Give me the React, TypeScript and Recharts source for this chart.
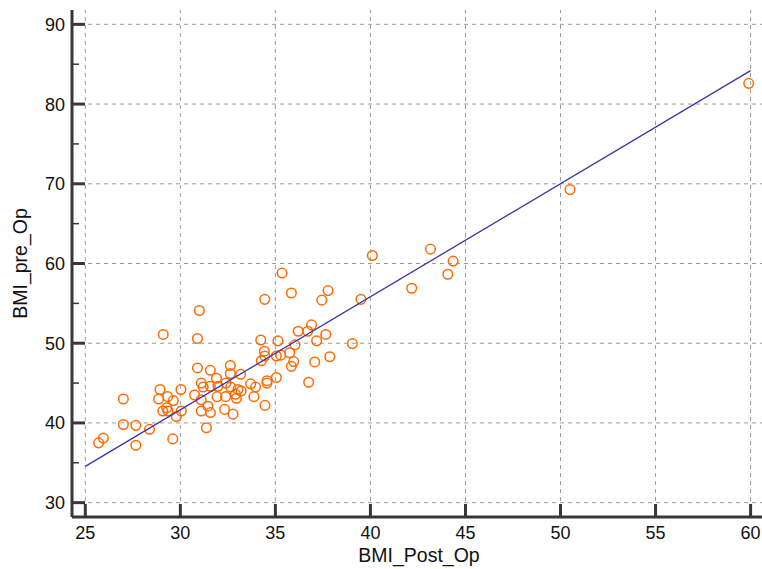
import { ScatterChart, Scatter, XAxis, YAxis, ReferenceLine, Label } from 'recharts';

// BMI after surgery (x) vs BMI before surgery (y)
const BMI_POST_OP = [
  25.7, 25.95, 27.0, 27.0, 27.66, 27.66, 28.38, 28.93, 28.86, 29.1,
  29.08, 29.28, 29.35, 29.33, 29.63, 29.6, 29.79, 30.03, 30.05, 30.9,
  30.9, 31.0, 30.75, 31.1, 31.2, 31.1, 31.45, 31.1, 31.58, 31.37,
  31.58, 31.58, 31.9, 31.98, 31.93, 32.33, 32.77, 32.4, 32.65, 32.38,
  32.63, 32.63, 32.9, 32.95, 33.17, 33.03, 33.2, 33.7, 33.96, 33.87,
  34.45, 34.56, 34.56, 35.05, 34.23, 34.26, 34.44, 34.42, 34.44, 35.05,
  35.28, 35.14, 35.35, 35.75, 35.84, 35.96, 35.84, 36.03, 36.2, 36.7,
  36.9, 36.75, 37.07, 37.17, 37.44, 37.65, 37.77, 37.86, 39.05, 39.5,
  40.1, 42.17, 43.16, 44.07, 44.35, 50.5, 59.9,
];
const BMI_PRE_OP = [
  37.5, 38.1, 43.0, 39.8, 39.7, 37.2, 39.2, 44.2, 43.0, 51.1,
  41.5, 41.9, 41.5, 43.3, 42.8, 38.0, 40.8, 44.2, 41.5, 50.6,
  46.9, 54.1, 43.5, 45.0, 44.5, 42.9, 42.1, 41.5, 41.3, 39.4,
  46.6, 44.6, 45.6, 44.6, 43.3, 41.7, 41.1, 45.0, 44.5, 43.3,
  47.2, 46.2, 43.6, 43.1, 46.1, 44.2, 44.0, 44.9, 44.5, 43.3,
  42.2, 45.3, 45.0, 45.7, 50.4, 47.8, 48.4, 49.0, 55.5, 48.4,
  48.5, 50.3, 58.8, 48.8, 47.1, 47.7, 56.3, 49.8, 51.5, 51.5,
  52.3, 45.1, 47.65, 50.3, 55.4, 51.1, 56.6, 48.3, 49.95, 55.5,
  61.0, 56.9, 61.8, 58.65, 60.3, 69.27, 82.6,
];

// regression line end points
const FIT_X = [25, 60];
const FIT_Y = [34.55, 84.2];

const X_TICKS = [25, 30, 35, 40, 45, 50, 55, 60];
const Y_TICKS = [30, 35, 40, 45, 50, 55, 60, 65, 70, 75, 80, 85, 90];
const Y_LABELS = [30, 40, 50, 60, 70, 80, 90];

const points = BMI_POST_OP.map((x, i) => ({ x, y: BMI_PRE_OP[i] }));
const fit = FIT_X.map((x, i) => ({ x, y: FIT_Y[i] }));

const W = 762;
const H = 569;
const TOP = 10;
const LEFT = 72;
const XAXIS_H = 52;
const BOTTOM = H - XAXIS_H;
const AXIS = '#383838';
const GRID = '#9a9a9a';
const FONT = '"Liberation Sans", Arial, Helvetica, sans-serif';

const YTick = (props: any) => {
  const { y, payload } = props;
  const v = payload.value;
  const major = Y_LABELS.includes(v);
  return (
    <g>
      <line x1={LEFT} x2={LEFT + (major ? 13 : 7)} y1={y} y2={y} stroke={AXIS} strokeWidth={major ? 3 : 1.5} />
      {major && (
        <text x={LEFT - 7} y={y + 6.5} textAnchor="end" fill="#111" fontSize={18} fontFamily={FONT}>
          {v}
        </text>
      )}
    </g>
  );
};

const XTick = (props: any) => {
  const { x, payload } = props;
  return (
    <g>
      <line x1={x} x2={x} y1={BOTTOM} y2={BOTTOM - 13} stroke={AXIS} strokeWidth={3} />
      <text x={x} y={BOTTOM + 21.5} textAnchor="middle" fill="#111" fontSize={18} fontFamily={FONT}>
        {payload.value}
      </text>
    </g>
  );
};

const Ring = (props: any) => (
  <circle cx={props.cx} cy={props.cy} r={4.8} fill="none" stroke="#ff6a00" strokeWidth={1.5} />
);

export default function App() {
  return (
    <div style={{ position: 'absolute', left: 0, top: 0, background: '#fff' }}>
      <ScatterChart width={W} height={H} margin={{ top: TOP, right: 0, bottom: 0, left: 0 }}>
        {Y_LABELS.map((v) => (
          <ReferenceLine key={`h${v}`} y={v} stroke={GRID} strokeDasharray="4 4" />
        ))}
        {X_TICKS.map((v) => (
          <ReferenceLine key={`v${v}`} x={v} stroke={GRID} strokeDasharray="4 4" />
        ))}
        <XAxis
          type="number"
          dataKey="x"
          domain={[24.3, 60.6]}
          ticks={X_TICKS}
          interval={0}
          allowDataOverflow
          height={XAXIS_H}
          axisLine={{ stroke: AXIS, strokeWidth: 3 }}
          tickLine={false}
          tick={(p: any) => <XTick {...p} />}
        >
          <Label
            content={() => (
              <text x={(LEFT + W) / 2 + 2} y={H - 7} textAnchor="middle" fill="#111" fontSize={19.5} fontFamily={FONT}>
                BMI_Post_Op
              </text>
            )}
          />
        </XAxis>
        <YAxis
          type="number"
          dataKey="y"
          domain={[28.2, 91.8]}
          ticks={Y_TICKS}
          interval={0}
          allowDataOverflow
          width={LEFT}
          axisLine={{ stroke: AXIS, strokeWidth: 3 }}
          tickLine={false}
          tick={(p: any) => <YTick {...p} />}
        >
          <Label
            content={() => (
              <text
                transform={`translate(27,${(TOP + BOTTOM) / 2}) rotate(-90)`}
                textAnchor="middle"
                fill="#111"
                fontSize={19.5}
                fontFamily={FONT}
              >
                BMI_pre_Op
              </text>
            )}
          />
        </YAxis>
        <Scatter data={points} shape={(p: any) => <Ring {...p} />} isAnimationActive={false} />
        <Scatter
          data={fit}
          line={{ stroke: '#3636a8', strokeWidth: 1.3 }}
          shape={() => <g />}
          isAnimationActive={false}
        />
      </ScatterChart>
    </div>
  );
}
